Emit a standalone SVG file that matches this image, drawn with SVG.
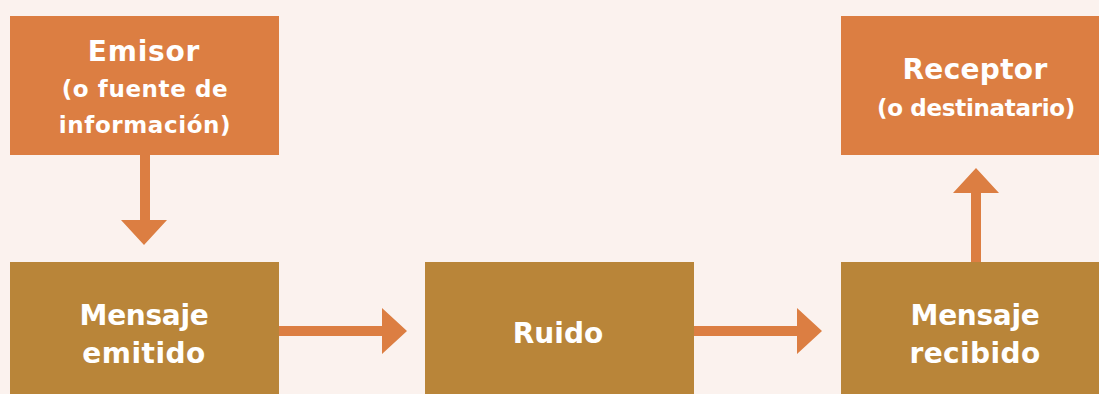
<svg xmlns="http://www.w3.org/2000/svg" width="1099" height="394" viewBox="0 0 1099 394">
<style>
.bg{fill:#FBF2EE}
.or{fill:#DC7E42}
.br{fill:#B98539}
.ar{fill:#DC7E42}
text{font-family:"DejaVu Sans","Noto Sans","Liberation Sans",sans-serif;font-weight:700;fill:#FFFFFF;text-anchor:middle}
.t1{font-size:28px}
.t2{font-size:23px}
</style>
<rect class="bg" x="0" y="0" width="1099" height="394"/>
<g id="connectors">
  <path class="ar" d="M140,155 H150 V220 H167 L144,245 L121,220 H140 Z"/>
  <path class="ar" d="M279,326 H382 V308 L407,331 L382,354 V336 H279 Z"/>
  <path class="ar" d="M694,326 H797 V308 L822,331 L797,354 V336 H694 Z"/>
  <path class="ar" d="M971,262 V193 H953 L976,168 L999,193 H981 V262 Z"/>
</g>
<g id="emisor">
  <rect class="or" x="10" y="16" width="269" height="139"/>
  <text class="t1" x="144" y="61" letter-spacing="0.8">Emisor</text>
  <text class="t2" x="145" y="97" letter-spacing="0.6">(o fuente de</text>
  <text class="t2" x="145" y="133" letter-spacing="0.6">información)</text>
</g>
<g id="mensaje-emitido">
  <rect class="br" x="10" y="262" width="269" height="132"/>
  <text class="t1" x="144" y="325" letter-spacing="-0.3">Mensaje</text>
  <text class="t1" x="144" y="363" letter-spacing="0.5">emitido</text>
</g>
<g id="ruido">
  <rect class="br" x="425" y="262" width="269" height="132"/>
  <text class="t1" x="558" y="343">Ruido</text>
</g>
<g id="receptor">
  <rect class="or" x="841" y="16" width="258" height="139"/>
  <text class="t1" x="975" y="79" letter-spacing="0.3">Receptor</text>
  <text class="t2" x="976" y="116" letter-spacing="-0.3">(o destinatario)</text>
</g>
<g id="mensaje-recibido">
  <rect class="br" x="841" y="262" width="258" height="132"/>
  <text class="t1" x="975" y="325" letter-spacing="-0.3">Mensaje</text>
  <text class="t1" x="975" y="363" letter-spacing="0.4">recibido</text>
</g>
</svg>
